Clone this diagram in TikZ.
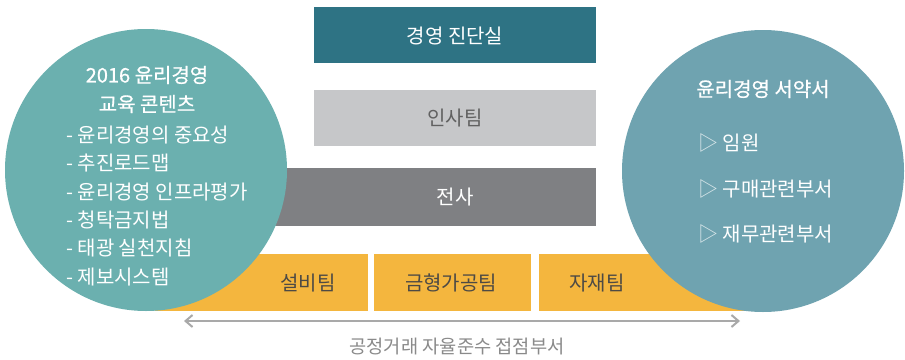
\documentclass[tikz,border=0pt]{standalone}
\usepackage{fontspec}
\setmainfont{Noto Sans CJK KR}
\newfontfamily\medfont[FakeBold=0.7]{Noto Sans CJK KR}
\usetikzlibrary{arrows.meta}
\definecolor{cleft}{HTML}{6BB0AF}
\definecolor{cright}{HTML}{6FA3B0}
\definecolor{ctop}{HTML}{2E7384}
\definecolor{cinsa}{HTML}{C6C7C9}
\definecolor{cjeon}{HTML}{7F8083}
\definecolor{cyel}{HTML}{F4B63E}
\definecolor{cyeltxt}{HTML}{4D4A45}
\definecolor{carrow}{HTML}{A9A9A9}
\definecolor{clabel}{HTML}{8A8A8A}
\tikzset{
  txt/.style={inner sep=0pt, font=\fontsize{20}{22}\selectfont},
  wtxt/.style={txt, text=white},
  titletxt/.style={inner sep=0pt, text=white, font=\fontsize{20}{22}\selectfont\medfont},
  listtxt/.style={wtxt, anchor=west},
}
\begin{document}
\begin{tikzpicture}[x=1pt,y=-1pt]
\useasboundingbox[fill=white] (0,0) rectangle (905,359);
% boxes
\fill[ctop] (314,7) rectangle (596,63);
\fill[cinsa] (314,90) rectangle (596,146);
\fill[cjeon] (240,168) rectangle (596,226);
\fill[cyel] (155,254) rectangle (368,311);
\fill[cyel] (374,254) rectangle (531,311);
\fill[cyel] (539,254) rectangle (752,311);
\node[wtxt] (jindan) at (455,36) {경영 진단실};
\node[txt, text=black!62] (insa) at (455,118) {인사팀};
\node[wtxt] (jeonsa) at (455,197) {전사};
\node[txt, text=cyeltxt] (seolbi) at (308,283) {설비팀};
\node[txt, text=cyeltxt] (geumhyeong) at (451,283) {금형가공팀};
\node[txt, text=cyeltxt] (jajae) at (597,283) {자재팀};
% circles
\fill[cleft] (146,170) circle (141);
\fill[cright] (763,171) circle (141);
% left circle text
\node[titletxt] (t1) at (147,75) {2016 윤리경영};
\node[titletxt] (t2) at (147,104) {교육 콘텐츠};
\node[listtxt] (l1) at (66,135) {- 윤리경영의 중요성};
\node[listtxt] (l2) at (66,163) {- 추진로드맵};
\node[listtxt] (l3) at (66,192) {- 윤리경영 인프라평가};
\node[listtxt] (l4) at (66,220) {- 청탁금지법};
\node[listtxt] (l5) at (66,248) {- 태광 실천지침};
\node[listtxt] (l6) at (66,277) {- 제보시스템};
% right circle text
\node[titletxt] (r0) at (763,89) {윤리경영 서약서};
\node[listtxt] (r1) at (698,143) {{\color{white!75!cright}▷} 임원};
\node[listtxt] (r2) at (698,189) {{\color{white!75!cright}▷} 구매관련부서};
\node[listtxt] (r3) at (698,234) {{\color{white!75!cright}▷} 재무관련부서};
% arrow
\coordinate (al) at (184,321);
\coordinate (ar) at (740,321);
\draw[carrow, line width=2pt, {Straight Barb[length=7pt,width=12pt]}-{Straight Barb[length=7pt,width=12pt]}] (al) -- (ar);
\node[txt, text=clabel, font=\fontsize{18.7}{20}\selectfont] (label) at (457,347) {공정거래 자율준수 접점부서};
\end{tikzpicture}
\end{document}
